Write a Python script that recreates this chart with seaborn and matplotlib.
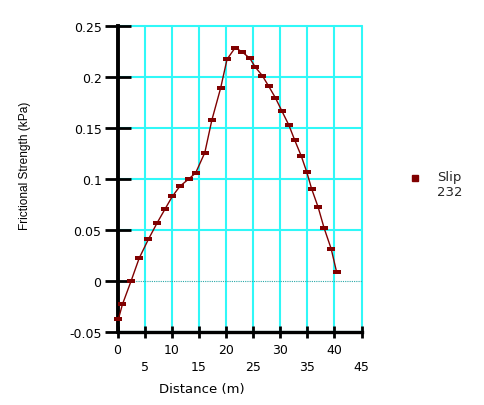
import matplotlib
matplotlib.use("Agg")
import numpy as np
import pandas as pd
import seaborn as sns
import matplotlib.pyplot as plt
from matplotlib.lines import Line2D
from matplotlib.path import Path
from matplotlib.legend_handler import HandlerLine2D

# ---- data ----
distance = [0.15, 0.9, 2.5, 4.0, 5.7, 7.3, 8.8, 10.1, 11.5, 13.1, 14.4, 16.1,
            17.4, 19.0, 20.2, 21.7, 23.0, 24.4, 25.4, 26.7, 27.9, 29.1, 30.3,
            31.6, 32.7, 33.9, 34.9, 35.8, 37.0, 38.1, 39.4, 40.4]
strength = [-0.0376, -0.023, 0.0, 0.0225, 0.041, 0.057, 0.071, 0.083, 0.093,
            0.100, 0.106, 0.126, 0.158, 0.189, 0.2176, 0.229, 0.2248, 0.2186,
            0.210, 0.2016, 0.191, 0.180, 0.167, 0.153, 0.138, 0.1225, 0.107,
            0.0905, 0.0725, 0.052, 0.0317, 0.009]
x_ticks = [0, 5, 10, 15, 20, 25, 30, 35, 40, 45]
x_tick_labels = ["0", "5", "10", "15", "20", "25", "30", "35", "40", "45"]
y_ticks = [-0.05, 0, 0.05, 0.1, 0.15, 0.2, 0.25]
y_tick_labels = ["-0.05", "0", "0.05", "0.1", "0.15", "0.2", "0.25"]
series_label = "Slip\n232"
x_title = "Distance (m)"
y_title = "Frictional Strength (kPa)"

df = pd.DataFrame({"Distance": distance, "Strength": strength})

sns.set_theme(style="white")
plt.rcParams["font.family"] = ["DejaVu Sans"]

LINE_COLOR = "#800000"
GRID_COLOR = "#30F8F8"

fig = plt.figure(figsize=(4.85, 4.06), dpi=100)
ax = fig.add_axes([0.2423, 0.1798, 0.5031, 0.7530])

rect = Path([(-1, -0.55), (1, -0.55), (1, 0.55), (-1, 0.55), (-1, -0.55)],
            [Path.MOVETO, Path.LINETO, Path.LINETO, Path.LINETO, Path.CLOSEPOLY])

sns.lineplot(data=df, x="Distance", y="Strength", ax=ax, sort=False,
             color=LINE_COLOR, linewidth=1.0, marker=rect, markersize=6,
             markeredgewidth=0, markerfacecolor=LINE_COLOR, clip_on=False,
             legend=False, zorder=3)

ax.set_xlim(0, 45)
ax.set_ylim(-0.05, 0.25)
ax.set_xticks(x_ticks)
ax.set_xticklabels(x_tick_labels)
ax.set_yticks(y_ticks)
ax.set_yticklabels(y_tick_labels)

ax.set_axisbelow(True)
ax.grid(True, color=GRID_COLOR, linewidth=1.5, linestyle="-")
for t in ax.xaxis.get_major_ticks() + ax.yaxis.get_major_ticks():
    t.gridline.set_clip_on(False)
for v, t in zip(y_ticks, ax.yaxis.get_major_ticks()):
    if v == 0:
        t.gridline.set_color("#2AA8A8")
        t.gridline.set_linestyle((0, (1, 1)))
        t.gridline.set_linewidth(0.8)

for s in ["top", "right"]:
    ax.spines[s].set_visible(False)
for s in ["left", "bottom"]:
    ax.spines[s].set_color("black")
ax.spines["left"].set_linewidth(2.8)
ax.spines["bottom"].set_linewidth(2.4)

ax.tick_params(axis="y", direction="inout", length=19, width=2.0, color="black",
               pad=2, labelsize=9, labelcolor="black", left=True)
ax.tick_params(axis="x", direction="inout", length=9, width=2.0, color="black",
               labelsize=9, labelcolor="black", bottom=True)
for i, t in enumerate(ax.xaxis.get_major_ticks()):
    t.set_pad(3.5 if i % 2 == 0 else 15.5)

ax.set_xlabel(x_title, fontsize=9.5, color="black")
ax.xaxis.set_label_coords(0.346, -0.165)
ax.set_ylabel(y_title, fontsize=8.6, color="black",
              family=["Liberation Sans Narrow", "Liberation Sans"])
ax.yaxis.set_label_coords(-0.355, 0.546)


class RaisedMarkerHandler(HandlerLine2D):
    def create_artists(self, legend, orig_handle, xdescent, ydescent, width,
                       height, fontsize, trans):
        artists = super().create_artists(legend, orig_handle, xdescent,
                                         ydescent, width, height, fontsize,
                                         trans)
        for a in artists:
            a.set_ydata(np.asarray(a.get_ydata(), dtype=float) + 4.5)
        return artists


handle = Line2D([], [], marker="s", linestyle="", color=LINE_COLOR, markersize=4)
ax.legend(handles=[handle], labels=[series_label], loc="center left",
          bbox_to_anchor=(0.845, 0.544), bbox_transform=fig.transFigure,
          frameon=False, handlelength=0.8, handletextpad=1.26, borderpad=0,
          borderaxespad=0, fontsize=9.5, labelspacing=0.1,
          handler_map={Line2D: RaisedMarkerHandler()})

fig.savefig("out.png", dpi=100, facecolor="white")
